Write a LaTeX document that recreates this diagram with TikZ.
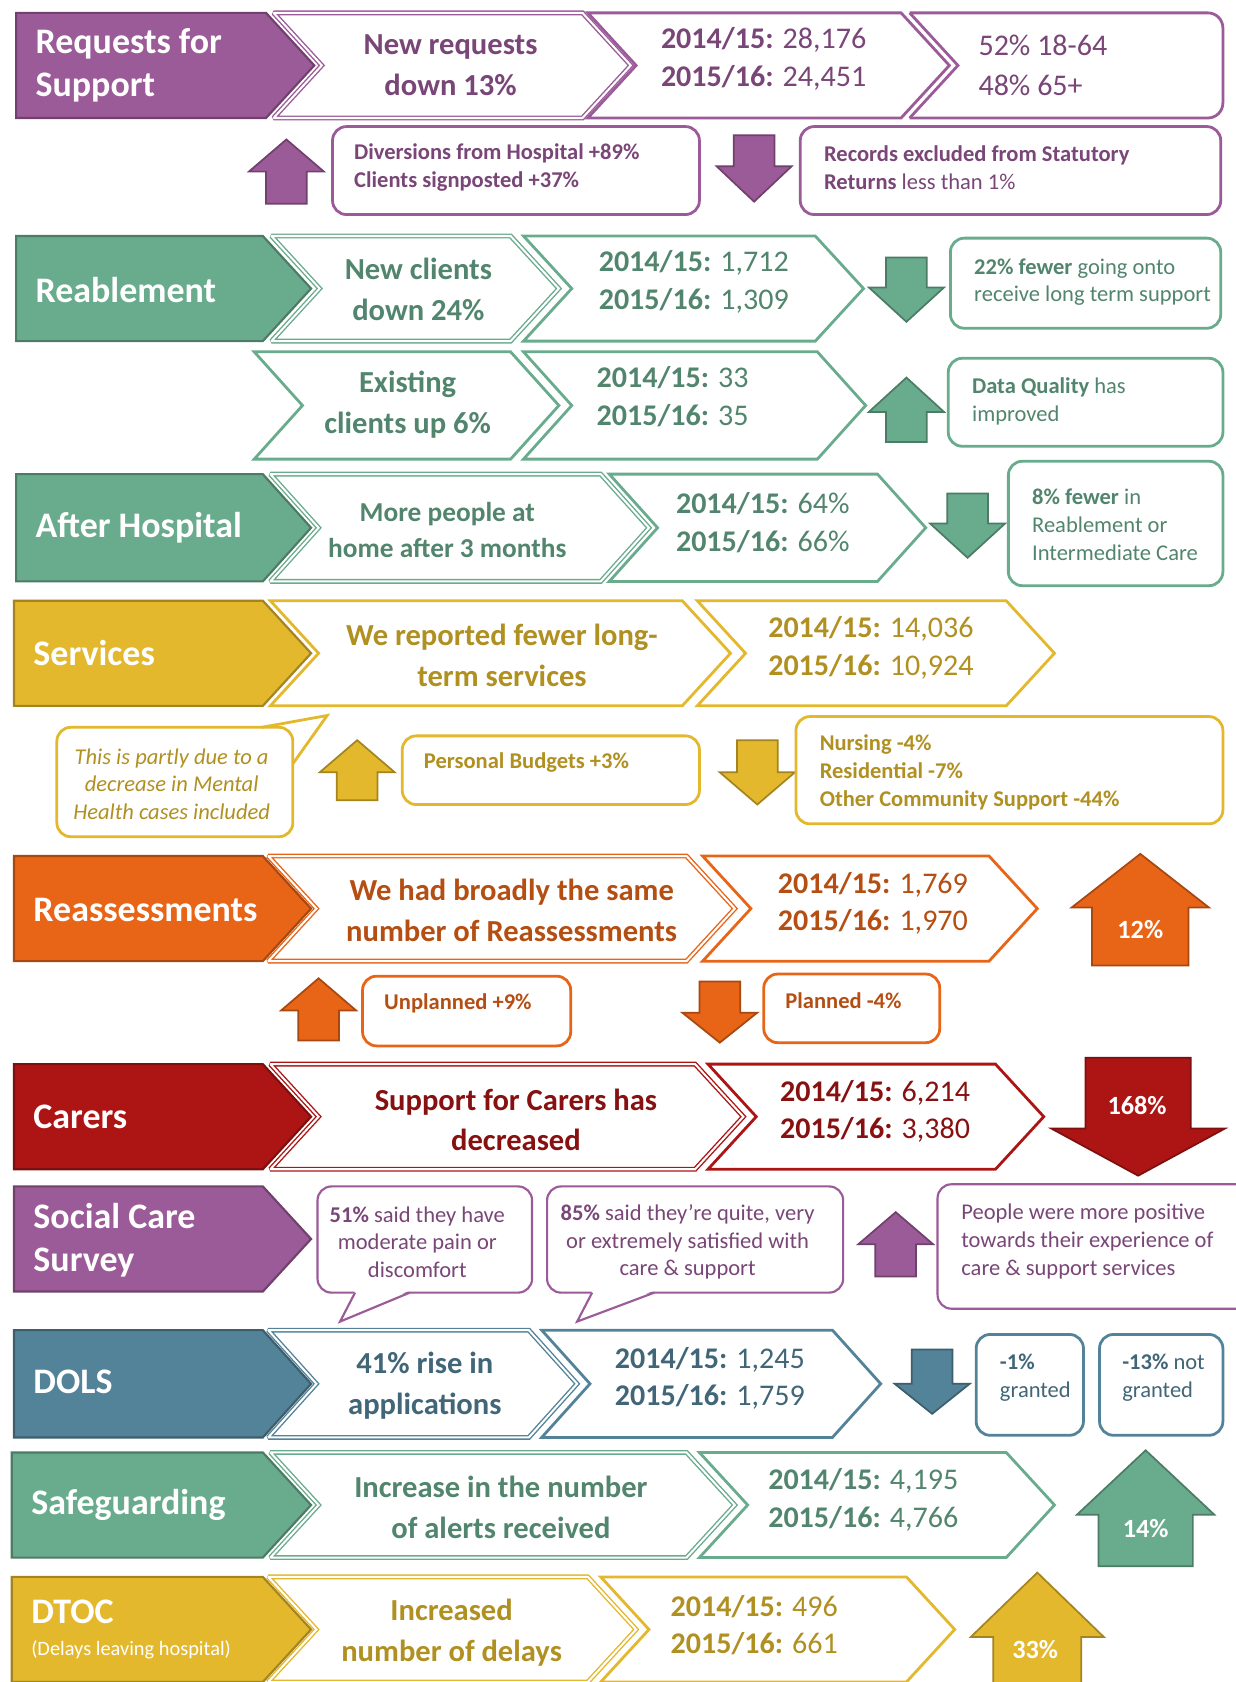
\documentclass[tikz,border=0pt]{standalone}
\usepackage{fontspec}
\setmainfont{Carlito}
\usetikzlibrary{calc}

\definecolor{purp}{HTML}{9B5A98}
\definecolor{grn}{HTML}{69AB8D}
\definecolor{gold}{HTML}{E3B82C}
\definecolor{orng}{HTML}{E86417}
\definecolor{rd}{HTML}{AD1515}
\definecolor{teal}{HTML}{538398}

\newcommand{\hdshape}[5]{\filldraw[#1] (#2,#4) -- (#3,#4) -- (#3+45,{(#4+#5)/2}) -- (#3,#5) -- (#2,#5) -- cycle;}
\newcommand{\chevshape}[5]{\draw[#1] (#2,#4) -- (#3,#4) -- (#3+45,{(#4+#5)/2}) -- (#3,#5) -- (#2,#5) -- (#2+45,{(#4+#5)/2}) -- cycle;}
\newcommand{\uparr}[5]{\filldraw[#1] (#2,#3) -- (#2+35,#4) -- (#2+19,#4) -- (#2+19,#5) -- (#2-19,#5) -- (#2-19,#4) -- (#2-35,#4) -- cycle;}
\newcommand{\downarr}[5]{\filldraw[#1] (#2-19,#3) -- (#2+19,#3) -- (#2+19,#4) -- (#2+35,#4) -- (#2,#5) -- (#2-35,#4) -- (#2-19,#4) -- cycle;}

\begin{document}
\begin{tikzpicture}[x=1pt,y=-1pt,
  hd/.style={fill=#1, draw=#1!72!black, line width=2pt},
  chA/.style={draw=#1, line width=1.3pt, double=white, double distance=1.9pt, miter limit=2},
  chB/.style={draw=#1, line width=2.6pt, miter limit=3},
  bx/.style={draw=#1, line width=2.6pt, rounded corners=13pt},
  arr/.style={fill=#1, draw=#1!72!black, line width=1.6pt},
  hdtext/.style={inner sep=0, anchor=west, align=left, text=white, font=\fontsize{33.5}{40}\selectfont\bfseries},
  chtext/.style={inner sep=0, align=center, text=#1!78!black, font=\fontsize{28.5}{38}\selectfont\bfseries},
  yrtext/.style={inner sep=0, anchor=west, align=left, text=#1!78!black, font=\fontsize{28}{35}\selectfont},
  smtext/.style={inner sep=0, anchor=west, align=left, text=#1!78!black, font=\fontsize{21}{26}\selectfont},
  bigtext/.style={inner sep=0, text=white, font=\fontsize{24.5}{28}\selectfont\bfseries}]
\fill[white] (0,0) rectangle (1152,1568);
\useasboundingbox (0,0) rectangle (1152,1568);

% requests for support
\hdshape{hd=purp}{15}{248}{12}{110}
\chevshape{chA=purp}{255}{543}{12}{110}
\chevshape{chB=purp}{548}{840}{12}{110}
\draw[chB=purp, rounded corners=14pt] (848,12) -- (1140,12) -- (1140,110) -- (848,110);
\draw[chB=purp] (848,12) -- (893,61) -- (848,110);
\node[hdtext] (req) at (33,61) {Requests for\\Support};
\node[chtext=purp] (reqnew) at (420,61) {New requests\\down 13\%};
\node[yrtext=purp] (reqyr) at (616,55) {\textbf{2014/15:} 28,176\\\textbf{2015/16:} 24,451};
\node[yrtext=purp, font=\fontsize{28}{38}\selectfont] (reqage) at (912,61) {52\% 18-64\\48\% 65+};

\uparr{arr=purp}{267}{130}{160}{190}
\draw[bx=purp] (310,118) rectangle (652,200);
\node[smtext=purp, font=\fontsize{21}{26}\selectfont\bfseries] (divert) at (330,156) {Diversions from Hospital +89\%\\Clients signposted +37\%};
\downarr{arr=purp}{703}{126}{155}{188}
\draw[bx=purp] (746,118) rectangle (1138,200);
\node[smtext=purp] (records) at (768,156) {\textbf{Records excluded from Statutory}\\\textbf{Returns} less than 1\%};

% reablement
\hdshape{hd=grn}{15}{245}{220}{318}
\chevshape{chA=grn}{253}{476}{220}{318}
\chevshape{chB=grn}{488}{760}{220}{318}
\node[hdtext] (reab) at (33,270) {Reablement};
\node[chtext=grn] (reabnew) at (390,270) {New clients\\down 24\%};
\node[yrtext=grn] (reabyr) at (558,263) {\textbf{2014/15:} 1,712\\\textbf{2015/16:} 1,309};
\downarr{arr=grn}{845}{240}{268}{300}
\draw[bx=grn] (886,222) rectangle (1138,306);
\node[smtext=grn] (fewer) at (908,263) {\textbf{22\% fewer} going onto\\receive long term support};

\chevshape{chB=grn}{237}{476}{328}{428}
\chevshape{chB=grn}{488}{762}{328}{428}
\node[chtext=grn] (exist) at (380,377) {Existing\\clients up 6\%};
\node[yrtext=grn] (existyr) at (556,370) {\textbf{2014/15:} 33\\\textbf{2015/16:} 35};
\uparr{arr=grn}{845}{352}{384}{412}
\draw[bx=grn] (884,334) rectangle (1140,416);
\node[smtext=grn] (quality) at (906,374) {\textbf{Data Quality} has\\improved};

% after hospital
\hdshape{hd=grn}{15}{245}{442}{542}
\chevshape{chA=grn}{252}{560}{442}{542}
\chevshape{chB=grn}{568}{818}{442}{542}
\node[hdtext] (after) at (33,492) {After Hospital};
\node[chtext=grn, font=\fontsize{25.5}{33}\selectfont\bfseries] (home) at (417,494) {More people at\\home after 3 months};
\node[yrtext=grn] (afteryr) at (630,487) {\textbf{2014/15:} 64\%\\\textbf{2015/16:} 66\%};
\downarr{arr=grn}{902}{460}{488}{520}
\draw[bx=grn] (940,430) rectangle (1140,546);
\node[smtext=grn] (interm) at (962,489) {\textbf{8\% fewer} in\\Reablement or\\Intermediate Care};

% services
\hdshape{hd=gold}{13}{245}{560}{658}
\chevshape{chB=gold}{252}{636}{560}{658}
\chevshape{chB=gold}{650}{938}{560}{658}
\node[hdtext] (serv) at (31,609) {Services};
\node[chtext=gold] (longterm) at (468,611) {We reported fewer long-\\term services};
\node[yrtext=gold] (servyr) at (716,604) {\textbf{2014/15:} 14,036\\\textbf{2015/16:} 10,924};

\draw[bx=gold] (53,678) rectangle (273,780);
\fill[white] (244,676) -- (305,667) -- (275,712) -- (275,676) -- cycle;
\draw[gold, line width=2.6pt, line join=miter] (244,678) -- (305,667) -- (273,712);
\node[smtext=gold, anchor=center, align=center, font=\fontsize{21}{25.5}\selectfont\itshape] (mental) at (160,731) {This is partly due to a\\decrease in Mental\\Health cases included};
\uparr{arr=gold}{333}{690}{720}{746}
\draw[bx=gold] (375,686) rectangle (652,750);
\node[smtext=gold] (budget) at (395,711) {\textbf{Personal Budgets +3\%}};
\downarr{arr=gold}{706}{690}{720}{750}
\draw[bx=gold] (742,668) rectangle (1140,768);
\node[smtext=gold] (nursing) at (764,720) {\textbf{Nursing -4\%}\\\textbf{Residential -7\%}\\\textbf{Other Community Support -44\%}};

% reassessments
\hdshape{hd=orng}{13}{245}{798}{896}
\chevshape{chA=orng}{250}{640}{798}{896}
\chevshape{chB=orng}{655}{922}{798}{896}
\node[hdtext] (reass) at (31,848) {Reassessments};
\node[chtext=orng] (same) at (477,849) {We had broadly the same\\number of Reassessments};
\node[yrtext=orng] (reassyr) at (725,842) {\textbf{2014/15:} 1,769\\\textbf{2015/16:} 1,970};
\filldraw[arr=orng] (1063,796) -- (1127,846) -- (1108,846) -- (1108,900) -- (1018,900) -- (1018,846) -- (999,846) -- cycle;
\node[bigtext] (up12) at (1063,867) {12\%};

\uparr{arr=orng}{297}{912}{942}{970}
\draw[bx=orng] (338,910) rectangle (532,975);
\node[smtext=orng] (unpl) at (358,935) {\textbf{Unplanned +9\%}};
\downarr{arr=orng}{671}{915}{944}{972}
\draw[bx=orng] (712,908) rectangle (876,972);
\node[smtext=orng] (plan) at (732,933) {\textbf{Planned -4\%}};

% carers
\hdshape{hd=rd}{13}{245}{992}{1090}
\chevshape{chA=rd}{252}{648}{992}{1090}
\chevshape{chB=rd}{660}{928}{992}{1090}
\node[hdtext] (carers) at (31,1041) {Carers};
\node[chtext=rd] (suppc) at (481,1044) {Support for Carers has\\decreased};
\node[yrtext=rd] (carersyr) at (727,1036) {\textbf{2014/15:} 6,214\\\textbf{2015/16:} 3,380};
\filldraw[arr=rd] (1012,986) -- (1110,986) -- (1110,1052) -- (1142,1052) -- (1061,1096) -- (980,1052) -- (1012,1052) -- cycle;
\node[bigtext] (down168) at (1060,1031) {168\%};

% social care survey
\hdshape{hd=purp}{13}{245}{1106}{1204}
\node[hdtext] (survey) at (31,1156) {Social Care\\Survey};
\draw[bx=purp, line width=2pt] (296,1106) rectangle (496,1205);
\fill[white] (331,1203) -- (317,1232) -- (382,1203) -- cycle;
\draw[purp, line width=2pt, line join=miter] (331,1205) -- (317,1232) -- (382,1205);
\node[smtext=purp, anchor=center, align=center, font=\fontsize{21}{25.5}\selectfont] (pain) at (389,1158) {\textbf{51\%} said they have\\moderate pain or\\discomfort};
\draw[bx=purp, line width=2pt] (510,1106) rectangle (786,1205);
\fill[white] (552,1203) -- (538,1232) -- (610,1203) -- cycle;
\draw[purp, line width=2pt, line join=miter] (552,1205) -- (538,1232) -- (610,1205);
\node[smtext=purp, anchor=center, align=center, font=\fontsize{21}{25.5}\selectfont] (satis) at (641,1158) {\textbf{85\%} said they're quite, very\\or extremely satisfied with\\care \& support};
\uparr{arr=purp}{835}{1130}{1160}{1190}
\draw[bx=purp, line width=2pt] (874,1104) rectangle (1168,1220);
\node[smtext=purp] (positive) at (896,1157) {People were more positive\\towards their experience of\\care \& support services};

% dols
\hdshape{hd=teal}{13}{245}{1240}{1340}
\chevshape{chA=teal}{250}{493}{1240}{1340}
\chevshape{chB=teal}{505}{776}{1240}{1340}
\node[hdtext] (dols) at (31,1288) {DOLS};
\node[chtext=teal] (rise) at (396,1292) {41\% rise in\\applications};
\node[yrtext=teal] (dolsyr) at (573,1285) {\textbf{2014/15:} 1,245\\\textbf{2015/16:} 1,759};
\downarr{arr=teal}{869}{1258}{1290}{1318}
\draw[bx=teal] (910,1244) rectangle (1010,1338);
\node[smtext=teal] (granted) at (932,1284) {\textbf{-1\%}\\granted};
\draw[bx=teal] (1025,1244) rectangle (1140,1338);
\node[smtext=teal] (notgr) at (1046,1284) {\textbf{-13\%} not\\granted};

% safeguarding
\hdshape{hd=grn}{11}{245}{1354}{1452}
\chevshape{chA=grn}{252}{640}{1354}{1452}
\chevshape{chB=grn}{652}{938}{1354}{1452}
\node[hdtext] (safe) at (29,1403) {Safeguarding};
\node[chtext=grn] (alerts) at (467,1405) {Increase in the number\\of alerts received};
\node[yrtext=grn] (safeyr) at (716,1398) {\textbf{2014/15:} 4,195\\\textbf{2015/16:} 4,766};
\filldraw[arr=grn] (1068,1352) -- (1132,1412) -- (1112,1412) -- (1112,1460) -- (1024,1460) -- (1024,1412) -- (1004,1412) -- cycle;
\node[bigtext] (up14) at (1068,1425) {14\%};

% dtoc
\hdshape{hd=gold}{11}{245}{1470}{1568}
\chevshape{chA=gold}{250}{548}{1470}{1568}
\chevshape{chB=gold}{560}{845}{1470}{1568}
\node[hdtext] (dtoc) at (29,1503) {DTOC};
\node[hdtext, font=\fontsize{19}{22}\selectfont] (delays) at (29,1538) {(Delays leaving hospital)};
\node[chtext=gold] (incr) at (421,1522) {Increased\\number of delays};
\node[yrtext=gold] (dtocyr) at (625,1515) {\textbf{2014/15:} 496\\\textbf{2015/16:} 661};
\filldraw[arr=gold] (967,1466) -- (1029,1526) -- (1008,1526) -- (1008,1580) -- (926,1580) -- (926,1526) -- (905,1526) -- cycle;
\node[bigtext] (up33) at (965,1538) {33\%};
\end{tikzpicture}
\end{document}
